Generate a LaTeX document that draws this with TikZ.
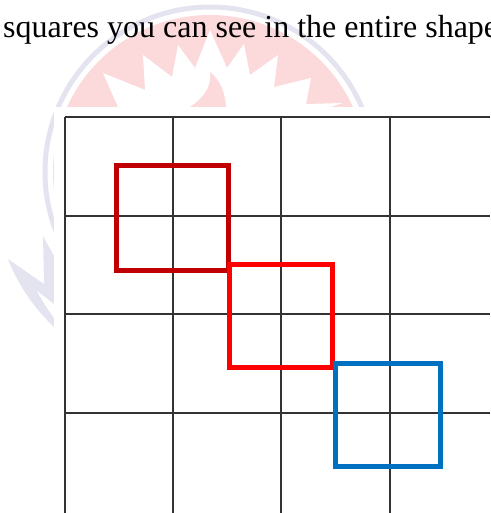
\documentclass[tikz,border=0pt]{standalone}
\usepackage{fontspec}
\setmainfont{Liberation Serif}
\definecolor{wmpink}{HTML}{FCD9DA}
\definecolor{wmring}{HTML}{E4E4F1}
\definecolor{gridline}{HTML}{333333}
\definecolor{darkbox}{HTML}{C00000}
\definecolor{midbox}{HTML}{FF0000}
\definecolor{bluebox}{HTML}{0070C0}
\tikzset{gridrule/.style={draw=gridline,line width=1.3pt},
 markbox/.style={line width=5pt,miter limit=10}}
\begin{document}
\begin{tikzpicture}[x=1pt,y=-1pt]
\useasboundingbox (0,0) rectangle (490,513);
\begin{scope}
\clip (0,0) rectangle (490,513);
\fill[wmpink] (210,172) circle[radius=157];
\draw[wmring,line width=5pt] (210,172) circle[radius=165];
\fill[white] (210,30) -- (195,68) -- (178,45) -- (172,77) -- (143,55) -- (145,90) -- (103,73) -- (118,107) -- (330,107) -- (343,103) -- (306,104) -- (311,78) -- (274,87) -- (278,55) -- (250,75) -- (244,44) -- (227,68) -- cycle;
\fill[wmpink] (210,72) .. controls (212,85) and (205,97) .. (190,107) -- (226,107) .. controls (225,92) and (220,80) .. (210,72) -- cycle;
\fill[wmring] (8,259) -- (44,284) -- (43,236) -- (54,256) -- (54,327) .. controls (34,308) and (18,285) .. (8,259) -- cycle;
\fill[white] (37,291) -- (54,304) -- (54,318) .. controls (48,310) and (42,300) .. (37,291) -- cycle;
\fill[white] (54,107) rectangle (490,513);
\end{scope}
\node[anchor=base west,inner sep=0pt,font=\fontsize{32}{36}\selectfont] (title) at (3,38) {squares you can see in the entire shape};
\foreach \n/\x in {a/65,b/173,c/281,d/390}
  \draw[gridrule] (\x,117) coordinate (\n top) -- (\x,513) coordinate (\n bot);
\foreach \n/\y in {p/117,q/216,r/314,s/413}
  \draw[gridrule] (65,\y) coordinate (\n left) -- (490,\y) coordinate (\n right);
\draw[markbox,draw=darkbox] (116.5,165.5) rectangle (228,270);
\draw[markbox,draw=midbox] (229,264.5) rectangle (332,367);
\draw[markbox,draw=bluebox] (335.5,363.5) rectangle (440,466);
\end{tikzpicture}
\end{document}
